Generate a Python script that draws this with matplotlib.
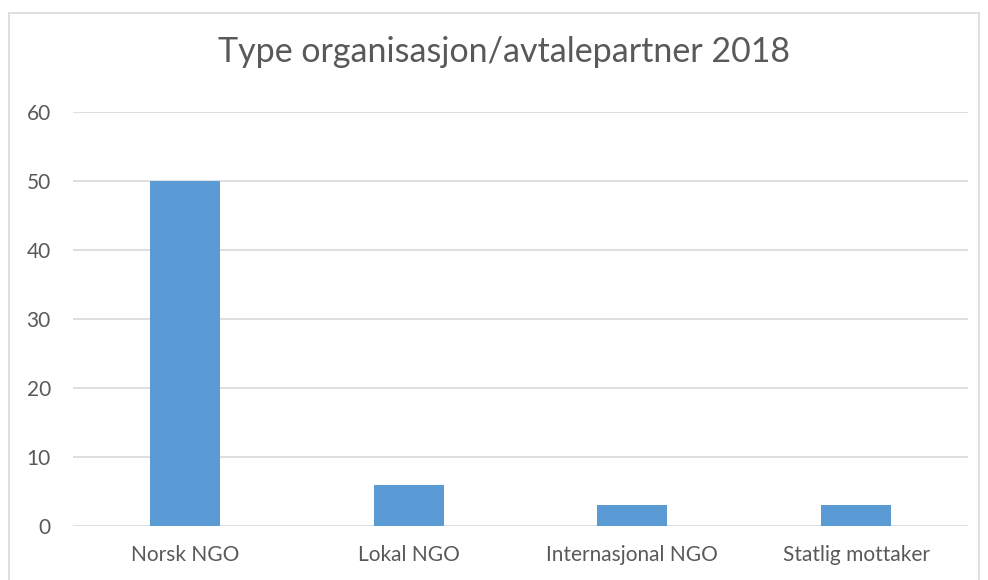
import matplotlib
matplotlib.use("Agg")
from matplotlib import pyplot as plt
from matplotlib.patches import Rectangle

categories = ["Norsk NGO", "Lokal NGO", "Internasjonal NGO", "Statlig mottaker"]
values = [50, 6, 3, 3]
yticks = [0, 10, 20, 30, 40, 50, 60]

plt.rcParams['font.family'] = ['Lato', 'DejaVu Sans']
txt = '#595959'

fig = plt.figure(figsize=(9.88, 5.8), dpi=100)
ax = fig.add_axes([73 / 988, 1 - 526 / 580, 895 / 988, 414 / 580])

x = range(len(categories))
ax.bar(x, values, width=0.313, color='#5b9bd5', zorder=3)

ax.set_xlim(-0.5, len(categories) - 0.5)
ax.set_ylim(0, 60)
ax.set_yticks(yticks)
ax.set_xticks(list(x))
ax.set_xticklabels(categories)
ax.grid(axis='y', color='#d9d9d9', linewidth=1.2, zorder=0)
for s in ax.spines.values():
    s.set_visible(False)
ax.tick_params(length=0, colors=txt, labelsize=15)
ax.tick_params(axis='y', pad=16)
ax.tick_params(axis='x', pad=14)

# title sits a bit right of centre in the original
fig.text(504 / 988, 1 - 52 / 580, "Type organisasjon/avtalepartner 2018",
         ha='center', va='center', fontsize=24.5, color=txt)

# outer chart frame
fig.patches.append(Rectangle((8.5 / 988, -0.1), (979 - 8.5) / 988, 1.1 - 12.5 / 580,
                             transform=fig.transFigure, fill=False,
                             edgecolor='#d9d9d9', linewidth=1.2))

fig.savefig("out.png", dpi=100)
